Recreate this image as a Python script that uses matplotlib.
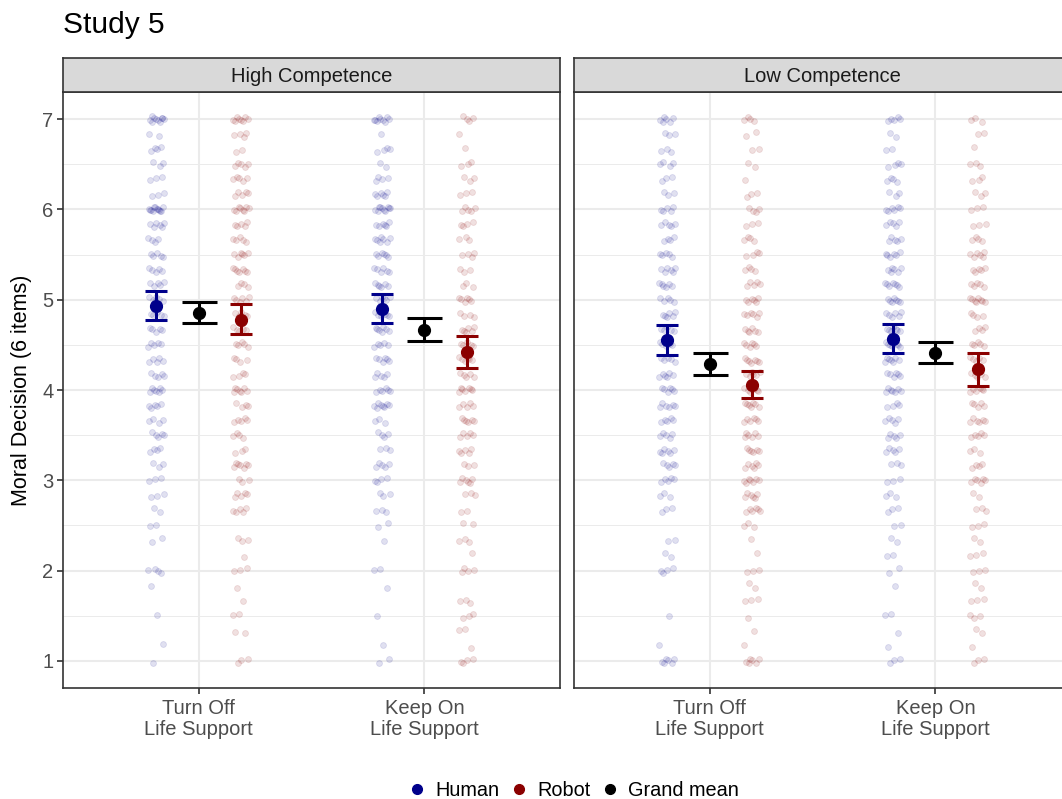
import matplotlib.pyplot as plt
import matplotlib.lines as mlines
import numpy as np

plt.rcParams["font.family"] = ["Liberation Sans", "DejaVu Sans"]

# ---- data ----
panels = ["High Competence", "Low Competence"]
decisions = ["Turn Off\nLife Support", "Keep On\nLife Support"]

# response levels of the 6-item scale: 1, 1.17, ..., 7
levels = np.arange(6, 43) / 6

# number of participants at each level (index 0 -> 1.0, index 36 -> 7.0)
high_off_human = [1, 1, 0, 1, 0, 1, 4, 0, 2, 2, 2, 3, 3, 3, 4, 5, 4, 5, 7,
                  5, 5, 5, 5, 5, 6, 5, 5, 5, 4, 6, 12, 3, 3, 3, 4, 2, 10]
high_off_robot = [3, 0, 2, 2, 1, 1, 3, 1, 3, 0, 5, 5, 3, 7, 3, 4, 5, 4, 7,
                  4, 4, 5, 5, 5, 6, 4, 7, 6, 5, 5, 8, 5, 5, 5, 2, 4, 8]
high_on_human = [2, 1, 0, 1, 0, 1, 2, 0, 1, 2, 3, 3, 4, 5, 3, 4, 3, 8, 6,
                 5, 6, 5, 7, 6, 6, 6, 6, 6, 7, 6, 10, 6, 4, 2, 4, 1, 9]
high_on_robot = [4, 1, 2, 3, 3, 0, 4, 1, 3, 2, 2, 3, 6, 3, 5, 5, 6, 5, 7,
                 5, 6, 5, 6, 4, 6, 3, 3, 4, 3, 4, 5, 3, 3, 3, 1, 1, 4]
low_off_human = [6, 1, 0, 1, 0, 0, 4, 2, 2, 0, 3, 3, 5, 5, 6, 5, 5, 6, 6,
                 6, 5, 5, 5, 6, 5, 6, 6, 5, 4, 5, 5, 3, 3, 4, 3, 3, 6]
low_off_robot = [6, 1, 1, 1, 3, 2, 3, 1, 1, 3, 6, 6, 7, 6, 6, 6, 6, 7, 6,
                 6, 7, 6, 6, 6, 6, 5, 4, 4, 4, 3, 4, 3, 1, 2, 2, 2, 4]
low_on_human = [3, 1, 1, 2, 0, 1, 2, 2, 2, 2, 3, 3, 3, 3, 5, 5, 5, 4, 7,
                6, 7, 8, 7, 6, 7, 7, 6, 6, 5, 5, 6, 3, 4, 4, 2, 2, 5]
low_on_robot = [3, 1, 2, 3, 3, 2, 3, 3, 2, 3, 3, 2, 6, 4, 3, 5, 6, 5, 6,
                5, 5, 5, 4, 4, 8, 5, 5, 6, 4, 3, 3, 3, 3, 3, 1, 2, 3]

counts_human = [[high_off_human, high_on_human], [low_off_human, low_on_human]]
counts_robot = [[high_off_robot, high_on_robot], [low_off_robot, low_on_robot]]

# means and 95% CI, [panel][decision]
human_mean = [[4.93, 4.90], [4.55, 4.56]]
human_lo = [[4.77, 4.74], [4.39, 4.41]]
human_hi = [[5.10, 5.06], [4.72, 4.73]]
robot_mean = [[4.78, 4.42], [4.06, 4.23]]
robot_lo = [[4.62, 4.24], [3.91, 4.04]]
robot_hi = [[4.95, 4.60], [4.21, 4.41]]
grand_mean = [[4.85, 4.66], [4.29, 4.41]]
grand_lo = [[4.74, 4.54], [4.17, 4.30]]
grand_hi = [[4.97, 4.80], [4.41, 4.53]]

# ---- style ----
human_col = "#00008B"
robot_col = "#8B0000"
grid_col = "#EBEBEB"
border_col = "#333333"
text_col = "#4D4D4D"
dodge = 0.187
jit_w = 0.036
jit_h = 0.03

W, H = 1062, 799
fig = plt.figure(figsize=(W / 100, H / 100), dpi=100)


def px_box(x0, y0, x1, y1):
    return [x0 / W, 1 - y1 / H, (x1 - x0) / W, (y1 - y0) / H]


def jittered(counts, centre):
    ys = np.repeat(levels, counts)
    n = len(ys)
    i = np.arange(n)
    # deterministic spread (golden-ratio sequences) instead of random jitter
    dx = ((i * 0.618034 + 0.3) % 1 - 0.5) * 2 * jit_w
    dy = ((i * 0.754878 + 0.1) % 1 - 0.5) * 2 * jit_h
    return centre + dx, ys + dy


panel_left = [63, 574]
for p, name in enumerate(panels):
    x0 = panel_left[p]
    ax = fig.add_axes(px_box(x0, 92, x0 + 497, 688))
    strip = fig.add_axes(px_box(x0, 58, x0 + 497, 92))

    # strip
    strip.set_facecolor("#D9D9D9")
    strip.set_xticks([])
    strip.set_yticks([])
    for s in strip.spines.values():
        s.set_color(border_col)
        s.set_linewidth(1.2)
    strip.text(0.5, 0.45, name, ha="center", va="center", fontsize=14.5,
               color="#1A1A1A", transform=strip.transAxes)

    # grid
    ax.set_xlim(0.4, 2.6)
    ax.set_ylim(0.7, 7.3)
    for y in np.arange(1.5, 7, 1):
        ax.axhline(y, color=grid_col, lw=0.7, zorder=0)
    for y in range(1, 8):
        ax.axhline(y, color=grid_col, lw=1.5, zorder=0)
    for x in [1, 2]:
        ax.axvline(x, color=grid_col, lw=1.5, zorder=0)

    for d in range(2):
        pos = d + 1
        xh, yh = jittered(counts_human[p][d], pos - dodge)
        xr, yr = jittered(counts_robot[p][d], pos + dodge)
        ax.scatter(xh, yh, s=18, color=human_col, alpha=0.12,
                   edgecolors=human_col, linewidths=0.6, zorder=2)
        ax.scatter(xr, yr, s=18, color=robot_col, alpha=0.12,
                   edgecolors=robot_col, linewidths=0.6, zorder=2)

        # means with CI
        for xpos, m, lo, hi, col, cap in [
            (pos - dodge, human_mean, human_lo, human_hi, human_col, 7.9),
            (pos, grand_mean, grand_lo, grand_hi, "black", 12.6),
            (pos + dodge, robot_mean, robot_lo, robot_hi, robot_col, 7.9),
        ]:
            mv = m[p][d]
            ax.errorbar([xpos], [mv],
                        yerr=[[mv - lo[p][d]], [hi[p][d] - mv]],
                        fmt="o", color=col, ms=8.5, elinewidth=2.2,
                        capsize=cap, capthick=2.2, zorder=4)

    ax.set_xticks([1, 2])
    ax.set_xticklabels(decisions, fontsize=14.5, color=text_col,
                       linespacing=1.1)
    ax.tick_params(axis="x", length=4, width=1.2, color=border_col, pad=4)
    if p == 0:
        ax.set_yticks(range(1, 8))
        ax.set_yticklabels([str(v) for v in range(1, 8)], fontsize=14.5,
                           color=text_col)
        ax.tick_params(axis="y", length=4, width=1.2, color=border_col, pad=3)
    else:
        ax.set_yticks([])
    for s in ax.spines.values():
        s.set_color(border_col)
        s.set_linewidth(1.2)

fig.text(63 / W, 1 - 25 / H, "Study 5", fontsize=21.5, ha="left",
         va="center", color="black")
fig.text(22 / W, 1 - 390 / H, "Moral Decision (6 items)", fontsize=15.5,
         rotation=90, ha="center", va="center", color="black")

handles = [
    mlines.Line2D([], [], ls="none", marker="o", ms=7, color=human_col,
                  label="Human"),
    mlines.Line2D([], [], ls="none", marker="o", ms=7, color=robot_col,
                  label="Robot"),
    mlines.Line2D([], [], ls="none", marker="o", ms=7, color="black",
                  label="Grand mean"),
]
fig.legend(handles=handles, loc="center", bbox_to_anchor=(574 / W, 1 - 790 / H),
           ncol=3, frameon=False, fontsize=14.3, handlelength=0.8,
           handletextpad=0.5, columnspacing=0.6, borderpad=0)

fig.savefig("out.png", dpi=100)
